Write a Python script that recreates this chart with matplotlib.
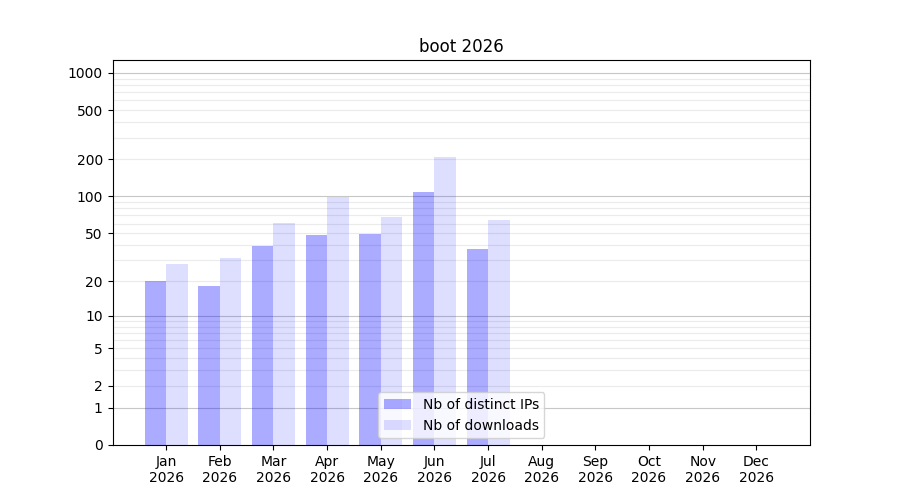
import numpy as np
import matplotlib
matplotlib.use("Agg")
import matplotlib.pyplot as plt

months = ["Jan", "Feb", "Mar", "Apr", "May", "Jun", "Jul", "Aug", "Sep", "Oct", "Nov", "Dec"]
year = "2026"
ips = [20, 18, 39, 48, 49, 109, 37]
downloads = [28, 31, 61, 99, 68, 208, 64]
yticks = [0, 1, 2, 5, 10, 20, 50, 100, 200, 500, 1000]


def fwd(v):
    return np.log10(1 + np.clip(v, 0, None))


def inv(v):
    return 10 ** v - 1


fig, ax = plt.subplots(figsize=(9, 5), dpi=100)
ax.set_yscale("function", functions=(fwd, inv))

# grid: decades darker, intermediate values lighter
for d in [1, 10, 100, 1000]:
    ax.axhline(d, color="0.78", lw=0.8, zorder=0)
    if d < 1000:
        for k in range(2, 10):
            ax.axhline(d * k, color="0.92", lw=0.8, zorder=0)

x = np.arange(len(ips))
w = 0.4
ax.bar(x - w / 2, ips, w, color="blue", alpha=0.33, label="Nb of distinct IPs", zorder=2)
ax.bar(x + w / 2, downloads, w, color="blue", alpha=0.13, label="Nb of downloads", zorder=2)

ax.set_xlim(-1, 12)
ax.set_ylim(0, 1270)
ax.set_xticks(np.arange(12))
ax.set_xticklabels([m + "\n" + year for m in months])
ax.set_yticks(yticks)
ax.set_yticklabels([str(t) for t in yticks])
ax.minorticks_off()
ax.set_title("boot 2026")
ax.legend(loc="lower center")

plt.savefig("out.png")
